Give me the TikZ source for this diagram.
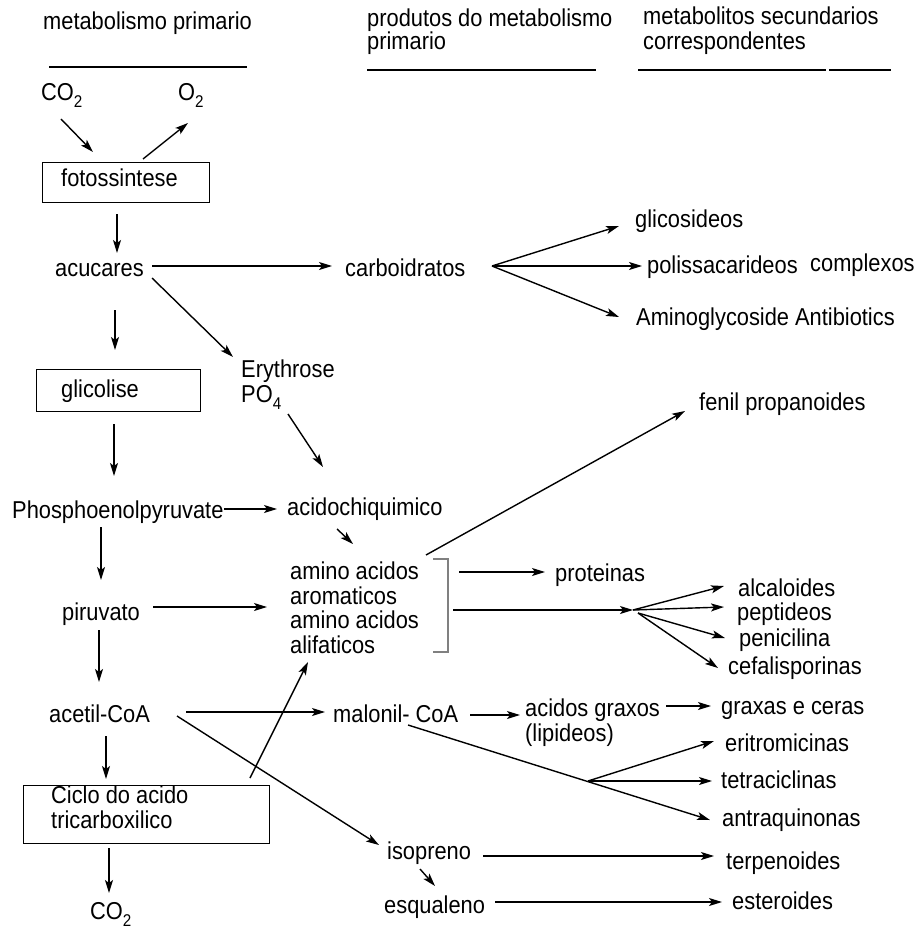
\documentclass[tikz,border=0pt]{standalone}
\usepackage{fontspec}
\setmainfont{Liberation Sans}[FakeStretch=0.895]
\usetikzlibrary{arrows.meta}
\newcommand\mysubs[1]{\raisebox{-7pt}{\fontsize{17}{17}\selectfont #1}}
\begin{document}
\begin{tikzpicture}[x=1pt,y=-1pt,
  txt/.style={anchor=base west,inner sep=0pt,font=\fontsize{24.4}{28}\selectfont,text=black},
  boxn/.style={draw,line width=1.4pt,anchor=north west,inner sep=0pt},
  arr/.style={line width=1.4pt,-{Stealth[length=13pt,width=8pt,inset=3pt]}},
  rule/.style={line width=1.5pt},
  brk/.style={line width=1.8pt,draw=gray}]
\useasboundingbox[fill=white] (0,0) rectangle (921,928);

% headers
\node[txt] (h1) at (43,30) {metabolismo primario};
\node[txt] (h2a) at (367,27) {produtos do metabolismo};
\node[txt] (h2b) at (367,50) {primario};
\node[txt] (h3a) at (643,25) {metabolitos secundarios};
\node[txt] (h3b) at (643,50) {correspondentes};
\draw[rule] (49,67) -- (247,67);
\draw[rule] (367,70) -- (596,70);
\draw[rule] (638,70) -- (826,70);
\draw[rule] (829,70) -- (891,70);

% left column
\node[txt] (co2) at (41,101) {CO\mysubs{2}};
\node[txt] (o2) at (178,101) {O\mysubs{2}};
\node[boxn,minimum width=167pt,minimum height=40pt] (fotobox) at (42,162) {};
\node[txt] (foto) at (61,186) {fotossintese};
\node[txt] (acucares) at (55,276) {acucares};
\node[boxn,minimum width=164pt,minimum height=42pt] (glicbox) at (36,369) {};
\node[txt] (glicolise) at (61,397) {glicolise};
\node[txt] (phos) at (12,518) {Phosphoenolpyruvate};
\node[txt] (piru) at (62,620) {piruvato};
\node[txt] (acetil) at (49,722) {acetil-CoA};
\node[boxn,minimum width=246pt,minimum height=58pt] (ciclobox) at (23,785) {};
\node[txt] (ciclo1) at (51,803) {Ciclo do acido};
\node[txt] (ciclo2) at (51,828) {tricarboxilico};
\node[txt] (co2b) at (90,919) {CO\mysubs{2}};

% middle column
\node[txt] (carbo) at (345,276) {carboidratos};
\node[txt] (ery) at (241,377) {Erythrose};
\node[txt] (po4) at (241,402) {PO\mysubs{4}};
\node[txt] (chiq) at (287,515) {acidochiquimico};
\node[txt] (aa1) at (290,579) {amino acidos};
\node[txt] (aa2) at (290,604) {aromaticos};
\node[txt] (aa3) at (290,628) {amino acidos};
\node[txt] (aa4) at (290,653) {alifaticos};
\node[txt] (prot) at (555,581) {proteinas};
\node[txt] (malo) at (333,722) {malonil- CoA};
\node[txt] (graxos) at (525,716) {acidos graxos};
\node[txt] (lip) at (525,741) {(lipideos)};
\node[txt] (iso) at (387,859) {isopreno};
\node[txt] (esq) at (384,913) {esqualeno};

% right column
\node[txt] (glic) at (635,227) {glicosideos};
\node[txt] (poli) at (647,273) {polissacarideos};
\node[txt] (compl) at (810,271) {complexos};
\node[txt] (amino) at (636,325) {Aminoglycoside Antibiotics};
\node[txt] (fenil) at (699,410) {fenil propanoides};
\node[txt] (alca) at (738,596) {alcaloides};
\node[txt] (pept) at (737,620) {peptideos};
\node[txt] (peni) at (739,646) {penicilina};
\node[txt] (cefa) at (728,674) {cefalisporinas};
\node[txt] (graxas) at (721,714) {graxas e ceras};
\node[txt] (erit) at (725,751) {eritromicinas};
\node[txt] (tetra) at (721,788) {tetraciclinas};
\node[txt] (antra) at (722,826) {antraquinonas};
\node[txt] (terp) at (726,869) {terpenoides};
\node[txt] (est) at (732,909) {esteroides};

% bracket
\draw[brk] ([shift={(143,-20)}]aa1.base west) -- ([shift={(158,-20)}]aa1.base west)
  -- ([shift={(158,-1)}]aa4.base west) -- ([shift={(143,-1)}]aa4.base west);

% branch points
\coordinate (cfan) at ([shift={(147,-10)}]carbo.base west);
\coordinate (fan2) at ([shift={(-105,14)}]alca.base west);
\coordinate (fan3) at ([shift={(-133,-7)}]tetra.base west);

% connectors
\draw[arr] ([shift={(20,18)}]co2.base west) -- ([shift={(51,-10)}]fotobox.north west);
\draw[arr] ([shift={(101,-3)}]fotobox.north west) -- ([shift={(10,22)}]o2.base west);
\draw[arr] ([shift={(75,52)}]fotobox.north west) -- ([shift={(62,-23)}]acucares.base west);
\draw[arr] ([shift={(97,-10)}]acucares.base west) -- ([shift={(-13,-10)}]carbo.base west);
\draw[arr] (cfan) -- ([shift={(-16,-1)}]glic.base west);
\draw[arr] (cfan) -- ([shift={(-5,-7)}]poli.base west);
\draw[arr] (cfan) -- ([shift={(-17,-8)}]amino.base west);
\draw[arr] ([shift={(97,2)}]acucares.base west) -- ([shift={(-8,-20)}]ery.base west);
\draw[arr] ([shift={(60,34)}]acucares.base west) -- ([shift={(79,-19)}]glicbox.north west);
\draw[arr] ([shift={(78,55)}]glicbox.north west) -- ([shift={(102,-42)}]phos.base west);
\draw[arr] ([shift={(47,12)}]po4.base west) -- ([shift={(36,-48)}]chiq.base west);
\draw[arr] ([shift={(212,-9)}]phos.base west) -- ([shift={(-10,-6)}]chiq.base west);
\draw[arr] ([shift={(50,14)}]chiq.base west) -- ([shift={(63,-35)}]aa1.base west);
\draw[arr] ([shift={(89,9)}]phos.base west) -- ([shift={(39,-40)}]piru.base west);
\draw[arr] ([shift={(91,-13)}]piru.base west) -- ([shift={(-23,3)}]aa2.base west);
\draw[arr] ([shift={(136,-24)}]aa1.base west) -- ([shift={(-14,1)}]fenil.base west);
\draw[arr] ([shift={(169,-7)}]aa1.base west) -- ([shift={(-10,-9)}]prot.base west);
\draw[arr] ([shift={(163,-18)}]aa3.base west) -- (fan2);
\draw[arr] (fan2) -- ([shift={(-14,-10)}]alca.base west);
\draw[arr] (fan2) -- ([shift={(-13,-13)}]pept.base west);
\draw[arr] ([shift={(5,3)}]fan2) -- ([shift={(-14,-8)}]peni.base west);
\draw[arr] ([shift={(5,3)}]fan2) -- ([shift={(-10,-6)}]cefa.base west);
\draw[arr] ([shift={(37,10)}]piru.base west) -- ([shift={(50,-40)}]acetil.base west);
\draw[arr] ([shift={(137,-10)}]acetil.base west) -- ([shift={(-8,-10)}]malo.base west);
\draw[arr] ([shift={(137,-7)}]malo.base west) -- ([shift={(-5,-1)}]graxos.base west);
\draw[arr] ([shift={(141,-10)}]graxos.base west) -- ([shift={(-10,-8)}]graxas.base west);
\draw[arr] ([shift={(75,3)}]malo.base west) -- ([shift={(-12,-6)}]antra.base west);
\draw[arr] (fan3) -- ([shift={(-11,-10)}]erit.base west);
\draw[arr] (fan3) -- ([shift={(-9,-7)}]tetra.base west);
\draw[arr] ([shift={(128,-6)}]acetil.base west) -- ([shift={(-8,-14)}]iso.base west);
\draw[arr] ([shift={(57,14)}]acetil.base west) -- ([shift={(83,-6)}]ciclobox.north west);
\draw[arr] ([shift={(227,-7)}]ciclobox.north west) -- ([shift={(18,9)}]aa4.base west);
\draw[arr] ([shift={(86,63)}]ciclobox.north west) -- ([shift={(19,-26)}]co2b.base west);
\draw[arr] ([shift={(96,-3)}]iso.base west) -- ([shift={(-12,-13)}]terp.base west);
\draw[arr] ([shift={(33,10)}]iso.base west) -- ([shift={(51,-27)}]esq.base west);
\draw[arr] ([shift={(111,-11)}]esq.base west) -- ([shift={(-10,-7)}]est.base west);
\end{tikzpicture}
\end{document}
